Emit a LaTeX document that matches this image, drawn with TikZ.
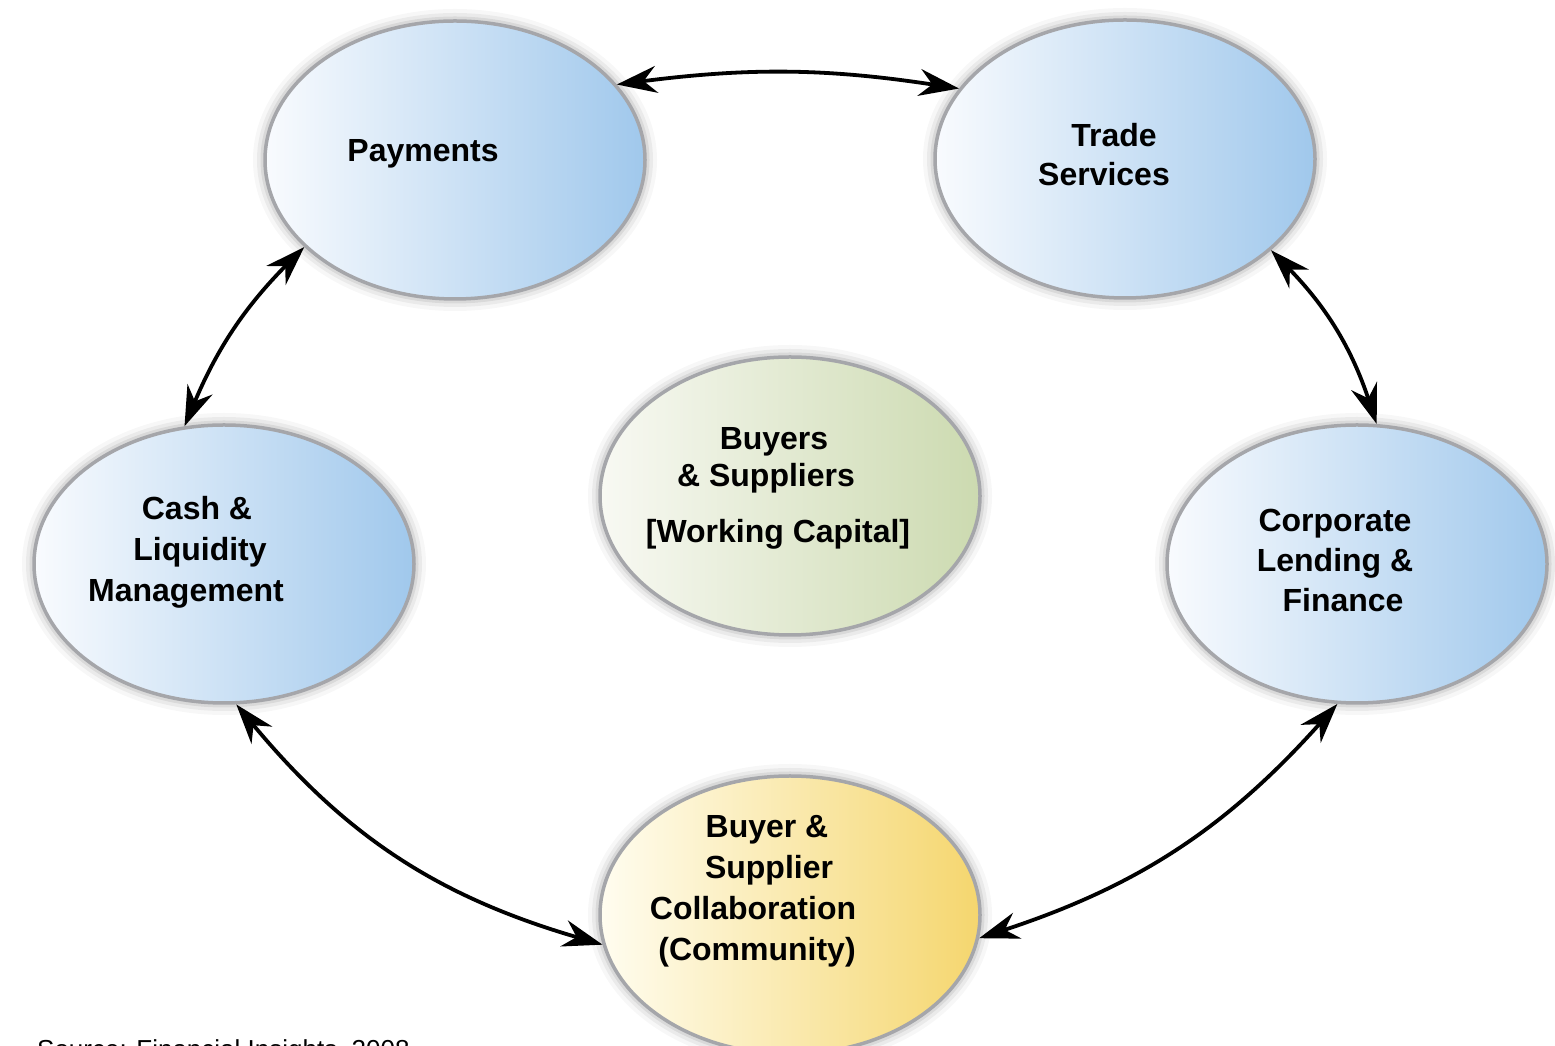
\documentclass[tikz,border=0pt]{standalone}
\usepackage{fontspec}
\setmainfont{Liberation Sans}
\usetikzlibrary{arrows.meta,shapes.geometric}

\definecolor{blueL}{RGB}{249,251,254}
\definecolor{blueR}{RGB}{160,200,236}
\definecolor{greenL}{RGB}{248,249,243}
\definecolor{greenR}{RGB}{204,218,176}
\definecolor{goldL}{RGB}{255,253,240}
\definecolor{goldR}{RGB}{245,214,110}
\definecolor{rim}{RGB}{165,166,170}

\newcommand{\lines}[1]{\begin{tabular}[t]{@{}c@{}}#1\end{tabular}}

\tikzset{bigtip/.tip={Stealth[length=40pt, width=27pt, inset=13pt]}}

\begin{document}
\begin{tikzpicture}[x=1pt,y=1pt,
  bubble/.style={ellipse, minimum width=380pt, minimum height=278pt,
    inner sep=0pt, draw=rim, line width=3.5pt,
    preaction={draw=black, draw opacity=0.03, line width=24pt},
    preaction={draw=black, draw opacity=0.05, line width=16pt},
    preaction={draw=black, draw opacity=0.07, line width=9pt}},
  bluebubble/.style={bubble, left color=blueL, right color=blueR},
  greenbubble/.style={bubble, left color=greenL, right color=greenR},
  goldbubble/.style={bubble, left color=goldL, right color=goldR},
  caption/.style={font=\bfseries\fontsize{32}{41}\selectfont, anchor=base,
    inner sep=0pt, text=black},
  link/.style={line width=3.8pt, black, bigtip-bigtip}
]
\clip (0,0) rectangle (1555,1046);
\fill[white] (0,0) rectangle (1555,1046);

% the six bubbles
\node[bluebubble]  (pay)    at (455,886) {};
\node[bluebubble]  (trade)  at (1125,887) {};
\node[greenbubble] (core)   at (790,550) {};
\node[bluebubble]  (cash)   at (224,482) {};
\node[bluebubble]  (corp)   at (1357,482) {};
\node[goldbubble]  (collab) at (790,131) {};

% bubble captions
\node[caption] (payT) at (423,884) {Payments};
\node[caption, font=\bfseries\fontsize{32}{39}\selectfont] (tradeT) at (1104,899)
  {\lines{\hspace*{20pt}Trade\\Services}};
\node[caption] (cashT) at (186,526)
  {\lines{\hspace*{22pt}Cash \&\\\hspace*{28pt}Liquidity\\Management}};
\node[caption, font=\bfseries\fontsize{32}{37}\selectfont] (coreT) at (778,596)
  {\lines{Buyers\hspace*{8pt}\\\& Suppliers\hspace*{24pt}\\[19pt][Working Capital]}};
\node[caption, font=\bfseries\fontsize{32}{40}\selectfont] (corpT) at (1335,514)
  {\lines{Corporate\\Lending \&\\\hspace*{16pt}Finance}};
\node[caption] (collabT) at (753,208)
  {\lines{\hspace*{28pt}Buyer \&\\\hspace*{32pt}Supplier\\Collaboration\\\hspace*{8pt}(Community)}};

% connectors around the ring
\draw[link] (pay.25)     to[bend left=8]  (trade.157);
\draw[link] (trade.-32)  to[bend left=13] (corp.82);
\draw[link] (corp.262)   to[bend left=15] (collab.-7);
\draw[link] (collab.189) to[bend left=17] (cash.275);
\draw[link] (cash.106)   to[bend left=11] (pay.210);

% source line
\node[anchor=base west, inner sep=0pt, font=\fontsize{26}{30}\selectfont] (src)
  at (37,-13) {Source: Financial Insights, 2008};
\end{tikzpicture}
\end{document}
